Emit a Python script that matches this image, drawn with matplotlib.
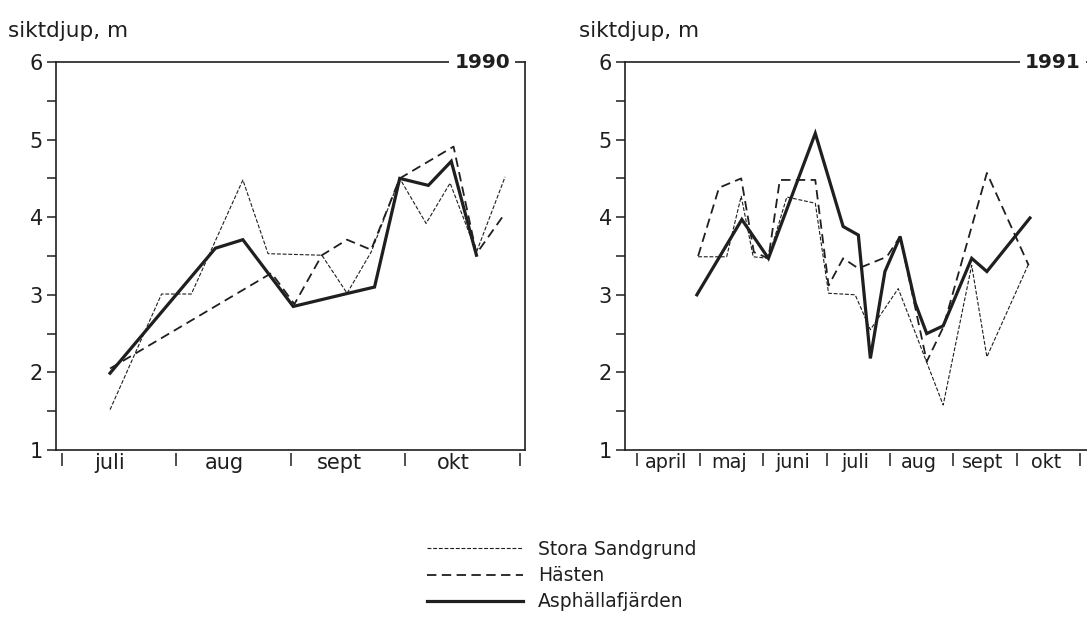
import matplotlib
matplotlib.use("Agg")
import matplotlib.pyplot as plt
from matplotlib.ticker import FixedLocator, NullFormatter, FixedFormatter

plt.rcParams["font.family"] = ["DejaVu Sans"]

INK = "#1f1f1f"

# --- 1990: positions in months counted from 1 July, Secchi depth in m ---
months_1990 = ["juli", "aug", "sept", "okt"]
sand_x_1990 = [0.42, 0.87, 1.13, 1.58, 1.80, 2.27, 2.49, 2.70, 2.95, 3.18, 3.39, 3.62, 3.87]
sand_y_1990 = [1.52, 3.01, 3.01, 4.48, 3.53, 3.51, 3.02, 3.55, 4.50, 3.92, 4.44, 3.55, 4.52]
hast_x_1990 = [0.42, 1.83, 2.03, 2.27, 2.49, 2.70, 2.95, 3.42, 3.62, 3.85]
hast_y_1990 = [2.05, 3.28, 2.88, 3.51, 3.71, 3.58, 4.50, 4.91, 3.53, 4.01]
asph_x_1990 = [0.42, 1.34, 1.58, 2.02, 2.50, 2.73, 2.95, 3.20, 3.40, 3.62]
asph_y_1990 = [1.99, 3.60, 3.71, 2.85, 3.02, 3.10, 4.50, 4.41, 4.72, 3.51]

# --- 1991: positions in months counted from 1 April ---
months_1991 = ["april", "maj", "juni", "juli", "aug", "sept", "okt"]
sand_x_1991 = [0.97, 1.42, 1.65, 1.84, 2.08, 2.37, 2.82, 3.03, 3.45, 3.69, 4.13, 4.84, 5.29, 5.53, 6.19]
sand_y_1991 = [3.49, 3.49, 4.27, 3.49, 3.47, 4.26, 4.18, 3.02, 3.00, 2.55, 3.08, 1.58, 3.38, 2.20, 3.40]
hast_x_1991 = [0.97, 1.30, 1.65, 1.85, 2.08, 2.26, 2.82, 3.03, 3.26, 3.50, 3.95, 4.16, 4.58, 4.84, 5.53, 6.19]
hast_y_1991 = [3.50, 4.38, 4.50, 3.55, 3.47, 4.48, 4.48, 3.12, 3.47, 3.34, 3.49, 3.75, 2.14, 2.58, 4.57, 3.38]
asph_x_1991 = [0.95, 1.66, 2.08, 2.82, 3.26, 3.50, 3.69, 3.92, 4.16, 4.40, 4.58, 4.84, 5.29, 5.53, 6.21]
asph_y_1991 = [3.00, 3.97, 3.47, 5.08, 3.88, 3.77, 2.18, 3.30, 3.75, 2.89, 2.50, 2.60, 3.47, 3.30, 3.99]

station_names = ["Stora Sandgrund", "Hästen", "Asphällafjärden"]
y_label = "siktdjup, m"

W, H = 1087, 622
fig = plt.figure(figsize=(W / 100, H / 100), dpi=100)
fig.patch.set_facecolor("white")


def px_rect(x0, x1, ytop, ybot):
    return [x0 / W, (H - ybot) / H, (x1 - x0) / W, (ybot - ytop) / H]


styles = [
    dict(color=INK, lw=0.8, linestyle=(0, (3.5, 1.6))),
    dict(color=INK, lw=1.3, linestyle=(0, (5.2, 3.0))),
    dict(color=INK, lw=2.3, linestyle="-", solid_joinstyle="miter"),
]


def setup(ax, months, xlim, year, year_x, label_size, label_shift):
    ax.set_xlim(*xlim)
    ax.set_ylim(1, 6)
    for s in ("top", "right", "left"):
        ax.spines[s].set_color(INK)
        ax.spines[s].set_linewidth(1.2)
    # bottom frame line drawn separately so the month ticks can hang below it
    ax.spines["bottom"].set_visible(False)
    ax.spines["bottom"].set_position(("outward", 1.8))
    ax.axhline(1, color=INK, lw=1.2, clip_on=False, zorder=2.5)

    ax.yaxis.set_major_locator(FixedLocator([1, 2, 3, 4, 5, 6]))
    ax.yaxis.set_minor_locator(FixedLocator([1.5, 2.5, 3.5, 4.5, 5.5]))
    ax.yaxis.set_minor_formatter(NullFormatter())
    ax.tick_params(axis="y", which="both", direction="out", length=6.5,
                   width=1.1, color=INK, labelsize=15, pad=3, labelcolor=INK)

    n = len(months)
    ax.xaxis.set_major_locator(FixedLocator(list(range(n + 1))))
    ax.xaxis.set_major_formatter(NullFormatter())
    ax.xaxis.set_minor_locator(FixedLocator([i + 0.5 - label_shift for i in range(n)]))
    ax.xaxis.set_minor_formatter(FixedFormatter(months))
    ax.tick_params(axis="x", which="major", direction="out", length=9,
                   width=1.1, color=INK)
    ax.tick_params(axis="x", which="minor", length=0, pad=0.5,
                   labelsize=label_size, labelcolor=INK)

    ax.text(year_x, 1.0, year, transform=ax.transAxes, ha="right", va="center",
            fontsize=14.5, fontweight="bold", color=INK, clip_on=False,
            bbox=dict(facecolor="white", edgecolor="none", pad=3.5), zorder=5)


ax1 = fig.add_axes(px_rect(56, 525, 62, 450))
ax2 = fig.add_axes(px_rect(625, 1092, 62, 450))

setup(ax1, months_1990, (-0.052, 4.044), "1990", 0.968, 15, 0.08)
setup(ax2, months_1991, (-0.185, 7.19), "1991", 0.976, 13.8, 0.04)

series_1990 = [(sand_x_1990, sand_y_1990), (hast_x_1990, hast_y_1990), (asph_x_1990, asph_y_1990)]
series_1991 = [(sand_x_1991, sand_y_1991), (hast_x_1991, hast_y_1991), (asph_x_1991, asph_y_1991)]

handles = []
for (x, y), st, name in zip(series_1990, styles, station_names):
    h, = ax1.plot(x, y, label=name, **st)
    handles.append(h)
for (x, y), st in zip(series_1991, styles):
    ax2.plot(x, y, **st)

fig.text(8 / W, 1 - 31 / H, y_label, ha="left", va="center", fontsize=15.5, color=INK)
fig.text(579 / W, 1 - 31 / H, y_label, ha="left", va="center", fontsize=15.5, color=INK)

fig.legend(handles=handles, labels=station_names, loc="upper left",
           bbox_to_anchor=(427 / W, 1 - 540 / H), frameon=False,
           fontsize=13.5, handlelength=5.1, handletextpad=0.8,
           labelspacing=0.38, borderpad=0, borderaxespad=0, labelcolor=INK)

fig.savefig("out.png", dpi=100, facecolor="white")
